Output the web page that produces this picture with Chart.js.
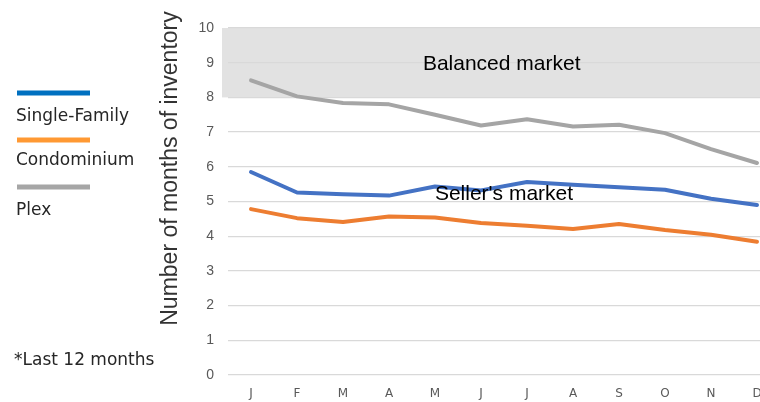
<!DOCTYPE html>
<html>
<head>
<meta charset="utf-8">
<script src="https://cdn.jsdelivr.net/npm/chart.js@4/dist/chart.umd.min.js"></script>
<style>
  html, body { margin: 0; padding: 0; background: #fff; overflow: hidden; }
  #wrap { width: 760px; height: 402px; overflow: hidden; position: relative; }
  canvas { display: block; }
</style>
</head>
<body>
<div id="wrap"><canvas id="myChart" width="780" height="402"></canvas></div>
<script>
// data
const months = ["J", "F", "M", "A", "M", "J", "J", "A", "S", "O", "N", "D"];
const singleFamily = [5.85, 5.26, 5.21, 5.17, 5.43, 5.32, 5.56, 5.48, 5.41, 5.34, 5.08, 4.90];
const condominium = [4.78, 4.52, 4.41, 4.57, 4.54, 4.38, 4.30, 4.21, 4.35, 4.18, 4.04, 3.84];
const plex = [8.49, 8.03, 7.84, 7.80, 7.50, 7.19, 7.37, 7.16, 7.21, 6.97, 6.51, 6.11];
const yTicks = [0, 1, 2, 3, 4, 5, 6, 7, 8, 9, 10];
const balancedRange = [8, 10];

const legendColors = ["#0070C0", "#FF9933", "#A6A6A6"];
const yTitle = "Number of months of inventory";
const footnote = "*Last 12 months";

// grey band + market labels + side legend + axis title
const marketPlugin = {
  id: "market",
  beforeDraw(chart) {
    const { ctx, chartArea, scales } = chart;
    const yTop = scales.y.getPixelForValue(balancedRange[1]);
    const yBot = scales.y.getPixelForValue(balancedRange[0]);
    ctx.save();
    ctx.fillStyle = "#E2E2E2";
    ctx.fillRect(chartArea.left - 6, yTop, chartArea.right - chartArea.left + 6, yBot - yTop);
    ctx.restore();
  },
  afterDatasetsDraw(chart) {
    const { ctx, scales } = chart;
    ctx.save();
    ctx.fillStyle = "#000";
    ctx.textAlign = "center";
    ctx.textBaseline = "alphabetic";
    ctx.font = "21px 'Liberation Sans', Arial, sans-serif";
    ctx.fillText("Balanced market", scales.x.getPixelForValue(5.45), scales.y.getPixelForValue(8.78));
    ctx.fillText("Seller's market", scales.x.getPixelForValue(5.5), scales.y.getPixelForValue(5.03));

    // y axis title, rotated
    ctx.save();
    ctx.translate(171, 168.5);
    ctx.rotate(-Math.PI / 2);
    ctx.textBaseline = "middle";
    ctx.fillStyle = "#333";
    ctx.font = "23px 'Liberation Sans', Arial, sans-serif";
    ctx.fillText(yTitle, 0, 0);
    ctx.restore();

    // legend on the left
    ctx.textAlign = "left";
    ctx.textBaseline = "alphabetic";
    ctx.font = "17px 'DejaVu Sans', sans-serif";
    const swatchY = [93, 140, 187];
    const textY = [121, 165, 215];
    chart.data.datasets.forEach((ds, i) => {
      ctx.fillStyle = legendColors[i];
      ctx.fillRect(17, swatchY[i] - 2.5, 73, 5);
      ctx.fillStyle = "#262626";
      ctx.fillText(ds.label, 16, textY[i]);
    });
    ctx.fillText(footnote, 14, 365);
    ctx.restore();
  }
};

const ctx = document.getElementById("myChart").getContext("2d");
const myChart = new Chart(ctx, {
  type: "line",
  data: {
    labels: months,
    datasets: [
      { label: "Single-Family", data: singleFamily, borderColor: "#4472C4" },
      { label: "Condominium", data: condominium, borderColor: "#ED7D31" },
      { label: "Plex", data: plex, borderColor: "#A5A5A5" }
    ]
  },
  options: {
    responsive: false,
    animation: false,
    layout: { padding: { left: 150, top: 28, right: 0, bottom: 0 } },
    elements: {
      line: { borderWidth: 4, tension: 0, borderCapStyle: "round", borderJoinStyle: "round" },
      point: { radius: 0 }
    },
    plugins: { legend: { display: false }, tooltip: { enabled: false } },
    scales: {
      x: {
        offset: true,
        grid: { display: false, drawTicks: false },
        border: { display: false },
        ticks: { color: "#595959", font: { size: 12, family: "'DejaVu Sans', sans-serif" }, padding: 12, maxRotation: 0 },
        afterFit(scale) { scale.height = 27; }
      },
      y: {
        min: 0,
        max: 10,
        afterBuildTicks(scale) { scale.ticks = yTicks.map(v => ({ value: v })); },
        grid: { color: "#D9D9D9", lineWidth: 1.3, drawTicks: false },
        border: { display: false },
        ticks: { color: "#595959", font: { size: 14, family: "'Liberation Sans', Arial, sans-serif" }, padding: 14 },
        afterFit(scale) { scale.width = 78; }
      }
    }
  },
  plugins: [marketPlugin]
});
</script>
</body>
</html>
